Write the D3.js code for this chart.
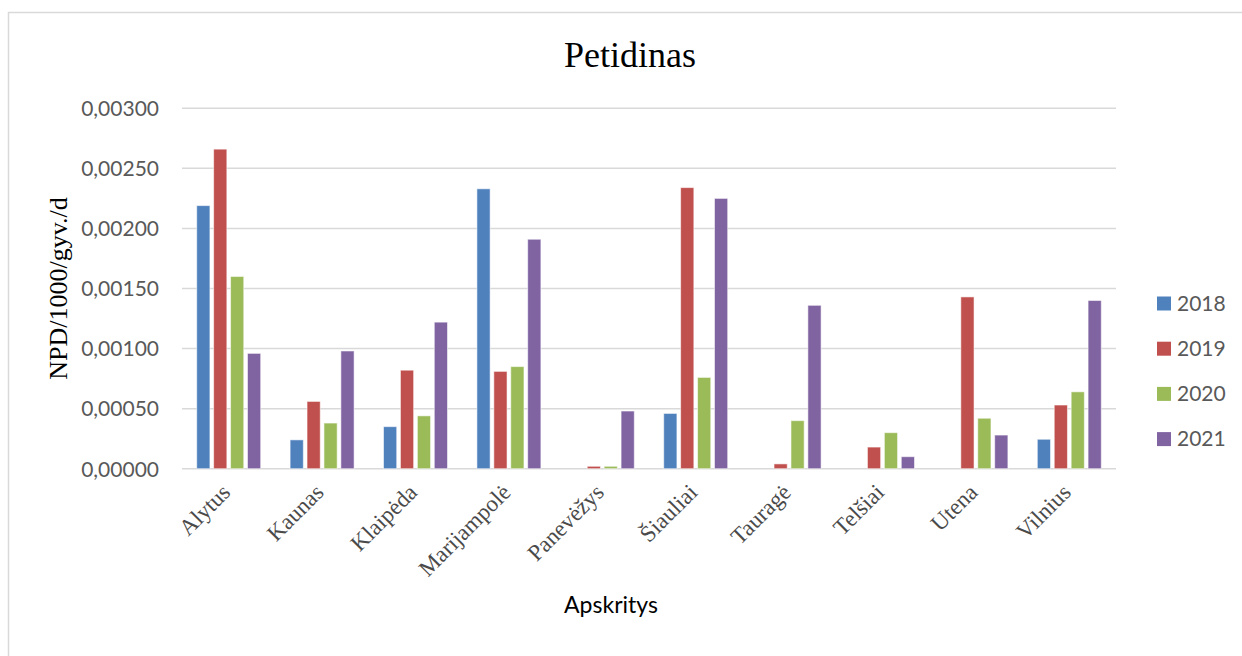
<!DOCTYPE html>
<html>
<head>
<meta charset="utf-8">
<script src="https://cdn.jsdelivr.net/npm/d3@7"></script>
<style>
  html, body { margin: 0; padding: 0; background: #fff; }
  svg { display: block; }
</style>
</head>
<body>
<svg id="chart" width="1242" height="656"></svg>
<script>
// Counties (apskritys) on the x axis
const categories = ["Alytus", "Kaunas", "Klaipėda", "Marijampolė", "Panevėžys",
                    "Šiauliai", "Tauragė", "Telšiai", "Utena", "Vilnius"];
const years = ["2018", "2019", "2020", "2021"];

// NPD/1000/gyv./d per county and year (null = no value)
const values2018 = [0.00219, 0.00024, 0.00035, 0.00233, null, 0.00046, null, null, null, 0.000245];
const values2019 = [0.00266, 0.00056, 0.00082, 0.00081, 0.00002, 0.00234, 0.00004, 0.00018, 0.00143, 0.00053];
const values2020 = [0.00160, 0.00038, 0.00044, 0.00085, 0.00002, 0.00076, 0.00040, 0.00030, 0.00042, 0.00064];
const values2021 = [0.00096, 0.00098, 0.00122, 0.00191, 0.00048, 0.00225, 0.00136, 0.00010, 0.00028, 0.00140];

const yTicks = [0, 0.0005, 0.001, 0.0015, 0.002, 0.0025, 0.003];
const colors = ["#4F81BD", "#C0504D", "#9BBB59", "#8064A2"];

const seriesValues = [values2018, values2019, values2020, values2021];
const rows = [];
categories.forEach((c, i) => {
  years.forEach((y, j) => {
    rows.push({ category: c, year: y, value: seriesValues[j][i] });
  });
});

const svg = d3.select("#chart");

// outer frame of the chart area
svg.append("path")
  .attr("d", "M8.5,656 L8.5,12.5 L1242,12.5")
  .attr("fill", "none")
  .attr("stroke", "#d9d9d9")
  .attr("stroke-width", 1.5);

const plot = { left: 182, right: 1116, top: 108.3, bottom: 468.7 };

const x0 = d3.scaleBand()
  .domain(categories)
  .range([plot.left, plot.right])
  .paddingInner(0.315)
  .paddingOuter(0.1575);

const x1 = d3.scaleBand()
  .domain(years)
  .range([0, x0.bandwidth()])
  .paddingInner(0.22);

const y = d3.scaleLinear()
  .domain([0, 0.003])
  .range([plot.bottom, plot.top]);

const color = d3.scaleOrdinal().domain(years).range(colors);
const fmt = v => d3.format(".5f")(v).replace(".", ",");

// gridlines
svg.append("g")
  .selectAll("line")
  .data(yTicks)
  .join("line")
  .attr("x1", plot.left)
  .attr("x2", plot.right)
  .attr("y1", d => y(d))
  .attr("y2", d => y(d))
  .attr("stroke", "#d9d9d9")
  .attr("stroke-width", 1.5);

// y axis tick labels
const yAxis = d3.axisLeft(y).tickValues(yTicks).tickFormat(fmt).tickSize(0).tickPadding(0);
const yg = svg.append("g")
  .attr("transform", "translate(159,0)")
  .call(yAxis);
yg.select(".domain").remove();
yg.selectAll("text")
  .attr("font-family", "Lato, 'Open Sans', sans-serif")
  .attr("font-size", 21)
  .attr("fill", "#595959")
  .attr("dy", "0.35em");

// bars
svg.append("g")
  .selectAll("rect")
  .data(rows.filter(d => d.value != null))
  .join("rect")
  .attr("x", d => x0(d.category) + x1(d.year))
  .attr("width", x1.bandwidth())
  .attr("y", d => y(d.value))
  .attr("height", d => y(0) - y(d.value))
  .attr("fill", d => color(d.year))
  .attr("stroke", "#ffffff")
  .attr("stroke-opacity", 0.55)
  .attr("stroke-width", 1);

// x axis category labels, rotated
const xAxis = d3.axisBottom(x0).tickSize(0).tickPadding(0);
const xg = svg.append("g")
  .attr("transform", `translate(0,${plot.bottom})`)
  .call(xAxis);
xg.select(".domain").remove();
xg.selectAll("text")
  .attr("font-family", "'Liberation Serif', 'Times New Roman', serif")
  .attr("font-size", 23)
  .attr("fill", "#4a4a4a")
  .attr("text-anchor", "end")
  .attr("dy", 0)
  .attr("transform", "translate(3,25) rotate(-45)");

// chart title
svg.append("text")
  .attr("x", 630)
  .attr("y", 67)
  .attr("text-anchor", "middle")
  .attr("font-family", "'Liberation Serif', 'Times New Roman', serif")
  .attr("font-size", 36)
  .attr("fill", "#000")
  .text("Petidinas");

// y axis title
svg.append("text")
  .attr("transform", `translate(67,${(plot.top + plot.bottom) / 2}) rotate(-90)`)
  .attr("text-anchor", "middle")
  .attr("font-family", "'Liberation Serif', 'Times New Roman', serif")
  .attr("font-size", 26)
  .attr("fill", "#000")
  .text("NPD/1000/gyv./d");

// x axis title
svg.append("text")
  .attr("x", 611)
  .attr("y", 613)
  .attr("text-anchor", "middle")
  .attr("font-family", "Lato, 'Open Sans', sans-serif")
  .attr("font-size", 23)
  .attr("fill", "#000")
  .text("Apskritys");

// legend
const legend = svg.append("g")
  .selectAll("g")
  .data(years)
  .join("g")
  .attr("transform", (d, i) => `translate(1157,${303.5 + i * 45.2})`);
legend.append("rect")
  .attr("x", 0)
  .attr("y", -7)
  .attr("width", 14)
  .attr("height", 14)
  .attr("fill", d => color(d));
legend.append("text")
  .attr("x", 20)
  .attr("y", 0)
  .attr("dy", "0.35em")
  .attr("font-family", "Lato, 'Open Sans', sans-serif")
  .attr("font-size", 21)
  .attr("fill", "#595959")
  .text(d => d);
</script>
</body>
</html>
